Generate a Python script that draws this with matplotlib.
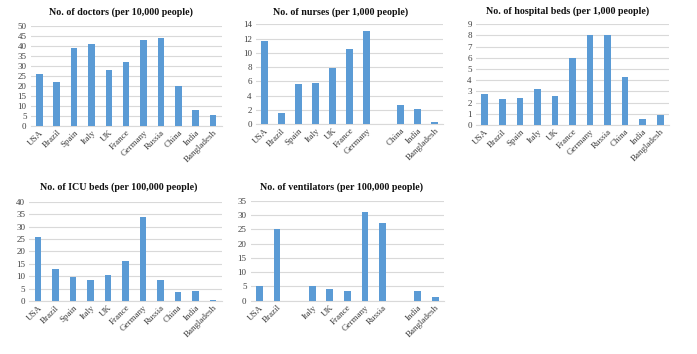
import numpy as np
import matplotlib
matplotlib.use("Agg")
import matplotlib.pyplot as plt

plt.rcParams['font.family'] = ['Liberation Serif', 'DejaVu Serif']

# data (None = no bar)
doc_labels = ["USA", "Brazil", "Spain", "Italy", "UK", "France", "Germany", "Russia", "China", "India", "Bangladesh"]
doctors = [26, 22, 39, 41, 28, 32, 43, 44, 20, 7.8, 5.3]

nurse_labels = ["USA", "Brazil", "Spain", "Italy", "UK", "France", "Germany", "", "China", "India", "Bangladesh"]
nurses = [11.7, 1.5, 5.6, 5.8, 7.8, 10.5, 13.0, None, 2.6, 2.1, 0.3]

bed_labels = ["USA", "Brazil", "Spain", "Italy", "UK", "France", "Germany", "Russia", "China", "India", "Bangladesh"]
beds = [2.8, 2.3, 2.4, 3.2, 2.6, 6.0, 8.0, 8.05, 4.3, 0.55, 0.87]

icu_labels = ["USA", "Brazil", "Spain", "Italy", "UK", "France", "Germany", "Russia", "China", "India", "Bangladesh"]
icu = [25.8, 13, 9.8, 8.6, 10.5, 16.3, 33.9, 8.3, 3.6, 4.0, 0.6]

vent_labels = ["USA", "Brazil", "", "Italy", "UK", "France", "Germany", "Russia", "", "India", "Bangladesh"]
ventilators = [5, 25, None, 5, 4.2, 3.3, 31.2, 27.2, None, 3.3, 1.2]

W, H = 697, 354
fig = plt.figure(figsize=(W / 100, H / 100), dpi=100)

BLUE = "#5B9BD5"
GRID = "#D9D9D9"
TXT = "#404040"

# (title, labels, values, ymax, step, box in px [left, top, right, bottom], title pos px)
panels = [
    ("No. of doctors (per 10,000 people)", doc_labels, doctors, 50, 5, [30.7, 25.7, 221.7, 125.7], (120.8, 12.3)),
    ("No. of nurses (per 1,000 people)", nurse_labels, nurses, 14, 2, [256, 24.3, 443, 124], (340.8, 12.3)),
    ("No. of hospital beds (per 1,000 people)", bed_labels, beds, 9, 1, [476, 24.3, 669, 125], (567.7, 10.7)),
    ("No. of ICU beds (per 100,000 people)", icu_labels, icu, 40, 5, [29.3, 201.7, 221.7, 301], (119, 187.3)),
    ("No. of ventilators (per 100,000 people)", vent_labels, ventilators, 35, 5, [250.7, 201, 444, 300.7], (341.7, 186.7)),
]

for title, labels, vals, ymax, step, box, tpos in panels:
    l, t, r, b = box
    ax = fig.add_axes([l / W, 1 - b / H, (r - l) / W, (b - t) / H])
    x = np.arange(len(labels))
    v = np.array([np.nan if a is None else a for a in vals], dtype=float)
    ax.bar(x, v, width=0.38, color=BLUE, zorder=3)
    ax.set_xlim(-0.5, len(labels) - 0.5)
    ax.set_ylim(0, ymax)
    ax.set_yticks(np.arange(0, ymax + 0.01, step))
    ax.yaxis.grid(True, color=GRID, linewidth=0.8, zorder=0)
    for s in ["top", "right", "left"]:
        ax.spines[s].set_visible(False)
    ax.spines["bottom"].set_color(GRID)
    ax.set_xticks(x)
    ax.set_xticklabels(labels, rotation=45, ha="right", rotation_mode="anchor", fontsize=6.5, color=TXT)
    ax.tick_params(axis="x", length=0, pad=2)
    ax.tick_params(axis="y", length=0, labelsize=6.5, labelcolor=TXT, pad=3)
    fig.text(tpos[0] / W, 1 - tpos[1] / H, title, ha="center", va="center",
             fontsize=7.2, fontweight="bold", color="#111111")

fig.savefig("out.png", dpi=100)
